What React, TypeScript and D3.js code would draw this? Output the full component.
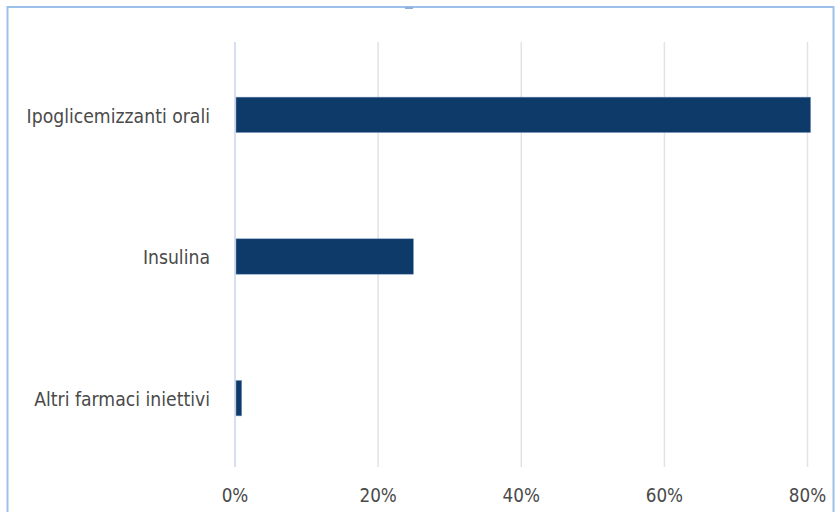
import React from "react";
import * as d3 from "d3";

const categories = ["Ipoglicemizzanti orali", "Insulina", "Altri farmaci iniettivi"];
const values = [80.3, 24.8, 0.8];
const tickValues = [0, 20, 40, 60, 80];

export default function App() {
  const W = 835, H = 512;
  const x = d3.scaleLinear().domain([0, 80]).range([235, 807.5]);
  const y = d3.scaleBand().domain(categories).range([44, 469]).paddingInner(0.75).paddingOuter(0.375);
  const font = "'DejaVu Sans Condensed', 'DejaVu Sans', sans-serif";
  return (
    <svg width={W} height={H} style={{ position: "absolute", left: 0, top: 0 }}>
      <rect x={0} y={0} width={W} height={H} fill="#fff" />
      <rect x={7.5} y={7} width={826} height={520} fill="none" stroke="#9dc0ea" strokeWidth={2} />
      <rect x={405} y={7} width={8} height={2} fill="#8fb0dc" />
      {tickValues.map((t) => (
        <line key={t} x1={x(t)} x2={x(t)} y1={42} y2={467} stroke={t === 0 ? "#c9d5ee" : "#e3e3e3"} strokeWidth={1.5} />
      ))}
      {categories.map((c, i) => (
        <rect key={c} x={x(0) + 1} y={y(c)!} width={x(values[i]) - x(0)} height={y.bandwidth()} fill="#0e3a6a" stroke="#7f9cc0" strokeWidth={0.5} />
      ))}
      {categories.map((c) => (
        <text key={c} x={210} y={y(c)! + y.bandwidth() / 2} dy="0.4em" textAnchor="end" fontFamily={font} fontSize={19.2} fill="#4a4a4a">{c}</text>
      ))}
      {tickValues.map((t) => (
        <text key={t} x={x(t)} y={502} textAnchor="middle" fontFamily={font} fontSize={18.7} fill="#4a4a4a">{t}%</text>
      ))}
    </svg>
  );
}
